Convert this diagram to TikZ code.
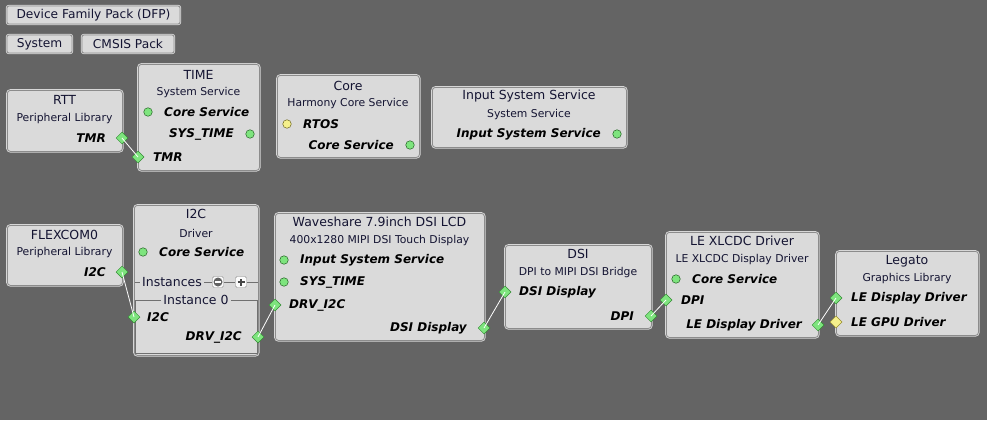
\documentclass[tikz,border=0pt]{standalone}
\usepackage{fontspec}
\setmainfont{DejaVu Sans}
\usetikzlibrary{shapes.geometric}
\definecolor{bgc}{RGB}{100,100,100}
\definecolor{boxc}{RGB}{218,218,218}
\definecolor{boxline}{RGB}{140,140,140}
\definecolor{boxlight}{RGB}{215,215,215}
\definecolor{greenc}{RGB}{126,228,126}
\definecolor{greenl}{RGB}{50,140,50}
\definecolor{yelc}{RGB}{245,240,140}
\definecolor{yell}{RGB}{150,140,40}
\definecolor{titc}{RGB}{20,20,50}
\tikzset{
  box/.style={draw=boxline, fill=boxc, rounded corners=3pt, line width=0.8pt, anchor=north west, inner sep=0pt,
    preaction={draw=boxlight, line width=2.4pt}},
  btn/.style={draw=boxline, fill=boxc, rounded corners=2pt, line width=0.8pt, inner sep=0pt, font=\fontsize{12.2}{14}\selectfont, text=titc,
    preaction={draw=boxlight, line width=2.4pt}},
  ttl/.style={inner sep=0pt, font=\fontsize{12.5}{14}\selectfont, text=titc},
  sub/.style={inner sep=0pt, font=\fontsize{10.8}{12}\selectfont, text=titc},
  lbl/.style={inner sep=0pt, font=\fontsize{12}{14}\selectfont\bfseries\itshape, text=black},
  gport/.style={diamond, draw=greenl, fill=greenc, minimum size=12pt, inner sep=0pt, line width=0.5pt},
  yport/.style={diamond, draw=yell, fill=yelc, minimum size=12pt, inner sep=0pt, line width=0.5pt},
  gdot/.style={circle, draw=greenl!70!black, fill=greenc, minimum size=8.5pt, inner sep=0pt, line width=0.5pt},
  ydot/.style={circle, draw=yell!70!black, fill=yelc, minimum size=8.5pt, inner sep=0pt, line width=0.5pt},
  wire/.style={draw=white, line width=0.8pt},
}
\begin{document}
\begin{tikzpicture}[x=1pt,y=-1pt]
\fill[bgc] (0,0) rectangle (987,420);
\useasboundingbox (0,0) rectangle (987,420);

% top buttons
\node[btn, minimum width=173pt, minimum height=18pt] (dfp) at (93.5,15) {Device Family Pack (DFP)};
\node[btn, minimum width=65pt, minimum height=18pt] (sys) at (39.5,44) {System};
\node[btn, minimum width=92pt, minimum height=18pt] (cmsis) at (128,44) {CMSIS Pack};

% RTT
\node[box, minimum width=115pt, minimum height=61pt] (rtt) at (7,90) {};
\node[ttl] (rttt) at (64.5,100) {RTT};
\node[sub] (rtts) at (64.5,119) {Peripheral Library};
\node[lbl, anchor=east] (rttl) at (106,138) {TMR};
\node[gport] (rtttmr) at (122,138) {};

% TIME
\node[box, minimum width=121pt, minimum height=106pt] (time) at (138,64) {};
\node[ttl] (timet) at (198.5,75) {TIME};
\node[sub] (times) at (198.5,93) {System Service};
\node[gdot] (timecs) at (148,112) {};
\node[lbl, anchor=west] (timecsl) at (164,112) {Core Service};
\node[lbl, anchor=east] (timestl) at (234,134) {SYS\_TIME};
\node[gdot] (timest) at (250,134) {};
\node[gport] (timetmr) at (138,157) {};
\node[lbl, anchor=west] (timetmrl) at (153,157) {TMR};

% Core
\node[box, minimum width=142pt, minimum height=82pt] (core) at (277,75) {};
\node[ttl] (coret) at (348,86) {Core};
\node[sub] (cores) at (348,104) {Harmony Core Service};
\node[ydot] (corertos) at (287,124) {};
\node[lbl, anchor=west] (corertosl) at (303,124) {RTOS};
\node[lbl, anchor=east] (corecsl) at (394,145) {Core Service};
\node[gdot] (corecs) at (410,145) {};

% Input System Service
\node[box, minimum width=194pt, minimum height=60pt] (iss) at (432,87) {};
\node[ttl] (isst) at (529,96) {Input System Service};
\node[sub] (isss) at (529,115) {System Service};
\node[lbl, anchor=east] (issl) at (601,134) {Input System Service};
\node[gdot] (issp) at (617,134) {};

% FLEXCOM0
\node[box, minimum width=115pt, minimum height=60pt] (flx) at (7,225) {};
\node[ttl] (flxt) at (64.5,235) {FLEXCOM0};
\node[sub] (flxs) at (64.5,253) {Peripheral Library};
\node[lbl, anchor=east] (flxl) at (106,272) {I2C};
\node[gport] (flxi2c) at (122,272) {};

% I2C driver
\node[box, minimum width=124pt, minimum height=150pt] (i2c) at (134,205) {};
\node[ttl] (i2ct) at (196,214) {I2C};
\node[sub] (i2cs) at (196,233) {Driver};
\node[gdot] (i2ccs) at (143,252) {};
\node[lbl, anchor=west] (i2ccsl) at (159,252) {Core Service};
\draw[boxline!80!black, line width=0.6pt] (135,300) rectangle (257,353);
\node[inner sep=0pt, font=\fontsize{12.5}{14}\selectfont, text=titc, anchor=west] (inst) at (142,282) {Instances};
\node[draw=boxline, fill=white!90!boxc, rounded corners=1.5pt, minimum size=11pt, inner sep=0pt] (minus) at (218,282) {};
\node[draw=boxline, fill=white!90!boxc, rounded corners=1.5pt, minimum size=11pt, inner sep=0pt] (plus) at (241,282) {};
\fill[boxline!70!black] (minus.center) circle (4.5pt);
\draw[white, line width=1.3pt] ([xshift=-3pt]minus.center) -- ([xshift=3pt]minus.center);
\draw[boxline!50!black, line width=1.3pt] ([xshift=-3.5pt]plus.center) -- ([xshift=3.5pt]plus.center)
  ([yshift=-3.5pt]plus.center) -- ([yshift=3.5pt]plus.center);
\draw[boxline!80!black, line width=0.6pt] (134.5,282) -- ([xshift=-2pt]inst.west) ([xshift=2pt]inst.east) -- (minus.west) (minus.east) -- (plus.west) (plus.east) -- (257.5,282);
\node[inner sep=2pt, fill=boxc, font=\fontsize{12.5}{14}\selectfont, text=titc] (inst0) at (196,300) {Instance 0};
\node[gport] (i2ci2c) at (134,317) {};
\node[lbl, anchor=west] (i2ci2cl) at (147,317) {I2C};
\node[lbl, anchor=east] (i2cdrvl) at (242,337) {DRV\_I2C};
\node[gport] (i2cdrv) at (258,337) {};

% Waveshare
\node[box, minimum width=209pt, minimum height=127pt] (ws) at (275,213) {};
\node[ttl] (wst) at (379.5,222) {Waveshare 7.9inch DSI LCD};
\node[sub] (wss) at (379.5,241) {400x1280 MIPI DSI Touch Display};
\node[gdot] (wsiss) at (284,260) {};
\node[lbl, anchor=west] (wsissl) at (300,260) {Input System Service};
\node[gdot] (wsst) at (284,282) {};
\node[lbl, anchor=west] (wsstl) at (300,282) {SYS\_TIME};
\node[gport] (wsdrv) at (275,305) {};
\node[lbl, anchor=west] (wsdrvl) at (289,305) {DRV\_I2C};
\node[lbl, anchor=east] (wsdsil) at (467,328) {DSI Display};
\node[gport] (wsdsi) at (484,328) {};

% DSI
\node[box, minimum width=146pt, minimum height=83pt] (dsi) at (505,245) {};
\node[ttl] (dsit) at (578,254) {DSI};
\node[sub] (dsis) at (578,273) {DPI to MIPI DSI Bridge};
\node[gport] (dsidsi) at (505,292) {};
\node[lbl, anchor=west] (dsidsil) at (519,292) {DSI Display};
\node[lbl, anchor=east] (dsidpil) at (634,316) {DPI};
\node[gport] (dsidpi) at (651,316) {};

% LE XLCDC
\node[box, minimum width=152pt, minimum height=105pt] (lex) at (666,232) {};
\node[ttl] (lext) at (742,241) {LE XLCDC Driver};
\node[sub] (lexs) at (742,260) {LE XLCDC Display Driver};
\node[gdot] (lexcs) at (676,279) {};
\node[lbl, anchor=west] (lexcsl) at (692,279) {Core Service};
\node[gport] (lexdpi) at (666,300) {};
\node[lbl, anchor=west] (lexdpil) at (681,300) {DPI};
\node[lbl, anchor=east] (lexledl) at (802,325) {LE Display Driver};
\node[gport] (lexled) at (818,325) {};

% Legato
\node[box, minimum width=142pt, minimum height=84pt] (leg) at (836,251) {};
\node[ttl] (legt) at (907,261) {Legato};
\node[sub] (legs) at (907,279) {Graphics Library};
\node[gport] (legled) at (836,298) {};
\node[lbl, anchor=west] (legledl) at (851,298) {LE Display Driver};
\node[yport] (leggpu) at (836,322) {};
\node[lbl, anchor=west] (leggpul) at (851,322) {LE GPU Driver};

% wires (on top of ports)
\draw[wire] (rtttmr.center) -- (timetmr.center);
\draw[wire] (flxi2c.center) -- (i2ci2c.center);
\draw[wire] (i2cdrv.center) -- (wsdrv.center);
\draw[wire] (wsdsi.center) -- (dsidsi.center);
\draw[wire] (dsidpi.center) -- (lexdpi.center);
\draw[wire] (lexled.center) -- (legled.center);
\end{tikzpicture}
\end{document}
